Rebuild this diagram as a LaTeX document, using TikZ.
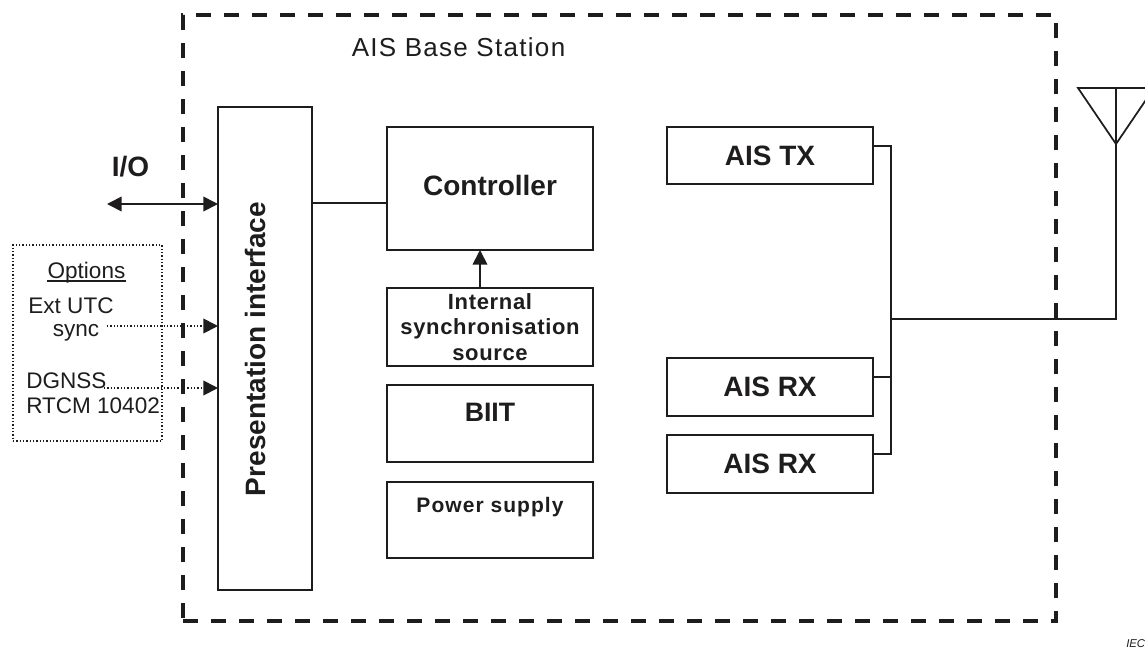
\documentclass[tikz,border=0pt]{standalone}
\usepackage{fontspec}
\setmainfont{Liberation Sans}
\usetikzlibrary{arrows.meta}
\definecolor{ink}{RGB}{30,28,29}
\begin{document}
\begin{tikzpicture}[x=0.75pt,y=-0.75pt,
  box/.style={draw=ink, line width=1.3pt, rectangle, inner sep=0pt, outer sep=0pt},
  lbl/.style={text=ink, inner sep=0pt, font=\bfseries\fontsize{21}{25}\selectfont},
  small/.style={text=ink, inner sep=0pt, font=\fontsize{16.9}{20}\selectfont},
  conn/.style={draw=ink, line width=1.3pt},
  tip/.style={-{Triangle[length=11pt,width=11pt]}},
  dtip/.style={{Triangle[length=11pt,width=11pt]}-{Triangle[length=11pt,width=11pt]}},
  dots/.style={line width=1.3pt, dash pattern=on 1.1pt off 1.4pt}]
\useasboundingbox (0,0) rectangle (1145,650);
\clip (0,0) rectangle (1145,650);

% station outline
\node[draw=ink, line width=3pt, dash pattern=on 11.25pt off 9.75pt, rectangle,
  inner sep=0pt, minimum width=654.75pt, minimum height=454.5pt] (station) at (619.5,318) {};
\node[text=ink, inner sep=0pt, font=\fontsize{19.5}{22}\selectfont\addfontfeatures{LetterSpace=5}]
  (title) at (458.5,47) {AIS Base Station};

% boxes
\node[box, minimum width=70.5pt, minimum height=362.25pt] (pres) at (265,348.5) {};
\node[lbl, rotate=90, anchor=base] (prestext) at (265,349) {Presentation interface};

\node[box, minimum width=154.5pt, minimum height=92.25pt] (ctrl) at (490,188.5) {};
\node[lbl] (ctrltext) at (490,185) {Controller};

\node[box, minimum width=154.5pt, minimum height=58.5pt, align=center, text=ink,
  font=\bfseries\fontsize{16.5}{19}\selectfont\addfontfeatures{LetterSpace=3}] (sync) at (490,327)
  {Internal\\synchronisation\\source};

\node[box, minimum width=154.5pt, minimum height=57.75pt] (biit) at (490,423.5) {};
\node[lbl, font=\bfseries\fontsize{20}{24}\selectfont] (biittext) at (490,412) {BIIT};

\node[box, minimum width=154.5pt, minimum height=57pt] (power) at (490,520) {};
\node[text=ink, inner sep=0pt, font=\bfseries\fontsize{15.75}{19}\selectfont\addfontfeatures{LetterSpace=5}]
  (powertext) at (490,507) {Power supply};

\node[box, lbl, minimum width=154.5pt, minimum height=42.75pt] (tx) at (770,155.5) {AIS TX};
\node[box, lbl, minimum width=154.5pt, minimum height=43.5pt] (rx1) at (770,387) {AIS RX};
\node[box, lbl, minimum width=154.5pt, minimum height=43.5pt] (rx2) at (770,464) {AIS RX};

% options
\node[draw=ink, dots, rectangle, inner sep=0pt, minimum width=111.75pt, minimum height=147pt] (opts) at (87.5,343) {};
\node[small, anchor=base] (optl) at (86.5,278.5) {Options};
\draw[ink, line width=0.9pt] ([yshift=-1.8pt]optl.base west) -- ([yshift=-1.8pt]optl.base east);
\node[small, anchor=base] (ext) at (71,313) {Ext UTC};
\node[small, anchor=base] (sync2) at (76,336) {sync};
\node[small, anchor=base west] (dgnss) at (26,388) {DGNSS};
\node[small, anchor=base west] (rtcm) at (26,413) {RTCM 10402};

\node[lbl] (io) at (130.5,167) {I/O};

% coordinates
\coordinate (ioend) at (107,204);
\coordinate (extend) at (107,326);
\coordinate (dgend) at (104,388);
\coordinate (pc) at (350,203);
\coordinate (sa) at (480,270);
\coordinate (txc) at (880,146);
\coordinate (rx1c) at (880,377);
\coordinate (rx2c) at (880,454);
\coordinate (bus) at (891,319);
\coordinate (ant) at (1116,319);
\coordinate (apex) at (1116,144);
\coordinate (antl) at (1078,88);
\coordinate (antr) at (1154,88);
\coordinate (antm) at (1116,88);

% connectors
\draw[conn, dtip] (ioend) -- (ioend -| pres.west);
\draw[ink, dots, tip] (extend) -- (extend -| pres.west);
\draw[ink, dots, tip] (dgend) -- (dgend -| pres.west);
\draw[conn] (pc -| pres.east) -- (pc -| ctrl.west);
\draw[conn, tip] (sa |- sync.north) -- (sa |- ctrl.south);
\draw[conn] (tx.east |- txc) -- (bus |- txc) -- (bus |- rx2c) -- (rx2.east |- rx2c);
\draw[conn] (rx1.east |- rx1c) -- (bus |- rx1c);
\draw[conn] (bus) -- (ant) -- (apex);
\draw[conn, line join=miter] (antl) -- (antr) -- (apex) -- cycle;
\draw[conn] (antm) -- (apex);

\node[text=ink, anchor=base west, inner sep=0pt, font=\itshape\fontsize{8.5}{10}\selectfont] (iec) at (1126,647) {IEC};
\end{tikzpicture}
\end{document}
